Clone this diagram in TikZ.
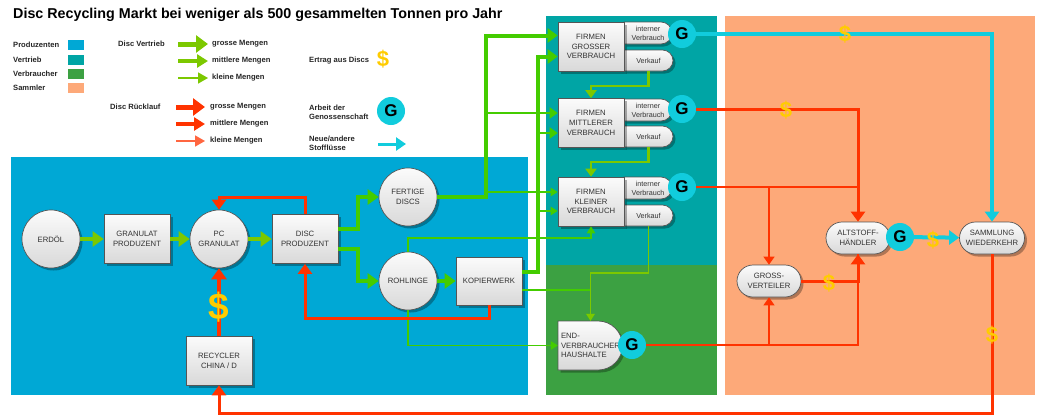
\documentclass[tikz,border=0pt]{standalone}
\usepackage{fontspec}
\setmainfont{Liberation Sans}
\usetikzlibrary{arrows.meta,shadows}
\definecolor{cProd}{HTML}{00A8D5}
\definecolor{cVert}{HTML}{00A5A5}
\definecolor{cVerb}{HTML}{3CA142}
\definecolor{cSamm}{HTML}{FDA979}
\definecolor{cYG}{HTML}{7CC800}
\definecolor{cBG}{HTML}{44CC00}
\definecolor{cRed}{HTML}{FF3300}
\definecolor{cCyan}{HTML}{11CCDD}
\definecolor{cGold}{HTML}{FFCC00}
\definecolor{cBorder}{HTML}{555555}
\tikzset{
  lbl/.style={font=\fontsize{7.7}{9.7}\selectfont, text=black!80},
  shad/.style={drop shadow={shadow xshift=2.5pt,shadow yshift=-2.5pt,fill=black,opacity=0.3}},
  nodefill/.style={draw=cBorder, line width=0.7pt, top color=gray!3, bottom color=gray!30, shad},
  circnode/.style={nodefill, lbl, circle, minimum size=58pt, inner sep=0pt, align=center},
  boxnode/.style={nodefill, lbl, rectangle, minimum width=66pt, minimum height=49pt, inner sep=0pt, align=center},
  pillnode/.style={nodefill, lbl, rectangle, rounded corners=16pt, minimum width=64pt, minimum height=32pt, inner sep=0pt, align=center},
  tabtext/.style={font=\fontsize{7.2}{9}\selectfont, text=black!80, inner sep=0pt, align=center, minimum width=49pt},
  gnode/.style={circle, fill=cCyan, minimum size=28pt, inner sep=0pt, font=\bfseries\fontsize{17}{17}\selectfont, text=black},
  dollar/.style={font=\bfseries\fontsize{22}{22}\selectfont, text=cGold, inner sep=0pt},
  legtext/.style={font=\bfseries\fontsize{7.6}{9}\selectfont, text=black!85, inner sep=0pt, anchor=west, align=left},
  sq/.style={minimum width=16pt, minimum height=10pt, inner sep=0pt, anchor=west},
  tipL/.style={-{Triangle[length=12pt,width=17pt]}},
  tipC/.style={-{Triangle[length=11pt,width=15pt]}},
  tipB/.style={-{Triangle[length=10pt,width=14pt]}},
  tipM/.style={-{Triangle[length=8pt,width=11pt]}},
  tipS/.style={-{Triangle[length=7pt,width=8.5pt]}},
  tipR/.style={-{Triangle[length=10pt,width=14pt]}},
  tipRS/.style={-{Triangle[length=8pt,width=11pt]}},
  lyB/.style={color=cYG, line width=4.5pt},
  lyM/.style={color=cYG, line width=2.6pt},
  lyS/.style={color=cYG, line width=1.3pt},
  lgB/.style={color=cBG, line width=4pt},
  lgM/.style={color=cBG, line width=2.8pt},
  lgS/.style={color=cBG, line width=1.3pt},
  lrX/.style={color=cRed, line width=4.5pt},
  lrB/.style={color=cRed, line width=3pt},
  lrS/.style={color=cRed, line width=1.3pt},
  lcB/.style={color=cCyan, line width=4pt},
}
\begin{document}
\begin{tikzpicture}[x=1pt,y=-1pt]
\useasboundingbox (0,0) rectangle (1037,416);
\fill[white] (0,0) rectangle (1037,416);
% regions
\fill[cProd] (11,157) rectangle (528,395);
\fill[cVert] (546,16) rectangle (717,265);
\fill[cVerb] (546,265) rectangle (717,395);
\fill[cSamm] (725,16) rectangle (1035,395);
% title
\node[anchor=west, font=\bfseries\fontsize{14.3}{14.3}\selectfont, inner sep=0pt] (title) at (13,15) {Disc Recycling Markt bei weniger als 500 gesammelten Tonnen pro Jahr};
% legend
\node[legtext] (tProd) at (13,45) {Produzenten};
\node[legtext] (tVert) at (13,60) {Vertrieb};
\node[legtext] (tVerb) at (13,74) {Verbraucher};
\node[legtext] (tSamm) at (13,88) {Sammler};
\node[sq, fill=cProd] (sProd) at (68,45) {};
\node[sq, fill=cVert] (sVert) at (68,60) {};
\node[sq, fill=cVerb] (sVerb) at (68,74) {};
\node[sq, fill=cSamm] (sSamm) at (68,88) {};
\node[legtext] (tDV) at (118,44) {Disc Vertrieb};
\node[legtext] (tDR) at (110,107) {Disc Rücklauf};
\node[legtext] (tg1) at (212,44) {grosse Mengen};
\node[legtext] (tg2) at (212,61) {mittlere Mengen};
\node[legtext] (tg3) at (212,78) {kleine Mengen};
\node[legtext] (tr1) at (210,107) {grosse Mengen};
\node[legtext] (tr2) at (210,124) {mittlere Mengen};
\node[legtext] (tr3) at (210,141) {kleine Mengen};
\coordinate (lga) at (178,44); \coordinate (lgb) at (208,44);
\coordinate (lgc) at (178,61); \coordinate (lgd) at (208,61);
\coordinate (lge) at (178,78); \coordinate (lgf) at (208,78);
\coordinate (lra) at (176,107); \coordinate (lrb) at (205,107);
\coordinate (lrc) at (176,124); \coordinate (lrd) at (205,124);
\coordinate (lre) at (176,141); \coordinate (lrf) at (205,141);
\coordinate (lca) at (378,144); \coordinate (lcb) at (406,144);
\draw[lyB, line width=5pt, tipL] (lga) -- (lgb);
\draw[lyB, line width=3.5pt, -{Triangle[length=11pt,width=13pt]}] (lgc) -- (lgd);
\draw[lyS, line width=1.6pt, -{Triangle[length=10pt,width=11pt]}] (lge) -- (lgf);
\draw[lrX, line width=5pt, tipL] (lra) -- (lrb);
\draw[lrX, line width=3.5pt, -{Triangle[length=11pt,width=13pt]}] (lrc) -- (lrd);
\draw[color=cRed!75, line width=1.6pt, -{Triangle[length=10pt,width=11pt]}] (lre) -- (lrf);
\draw[lcB, line width=3pt, -{Triangle[length=10pt,width=13pt]}] (lca) -- (lcb);
\node[legtext] (tEr) at (309,61) {Ertrag aus Discs};
\node[dollar] (ld) at (383,59) {\$};
\node[legtext] (tAr) at (309,112.5) {Arbeit der\\Genossenschaft};
\node[gnode] (lg) at (391,111) {G};
\node[legtext] (tNe) at (309,143) {Neue/andere\\Stofflüsse};
% producer nodes
\node[circnode] (erdoel) at (51,239) {ERDÖL};
\node[boxnode] (granprod) at (137,239) {GRANULAT\\PRODUZENT};
\node[circnode] (pcgran) at (219,239) {PC\\GRANULAT};
\node[boxnode] (discprod) at (305,239) {DISC\\PRODUZENT};
\node[circnode] (fert) at (408,197) {FERTIGE\\DISCS};
\node[circnode] (rohl) at (408,281) {ROHLINGE};
\node[boxnode, minimum height=48pt] (kopier) at (489,281) {KOPIERWERK};
\node[boxnode] (recyc) at (219,360.5) {RECYCLER\\CHINA / D};
% firm tabs
\path[nodefill] (624,22) -- (661,22) arc[start angle=90,end angle=-90,radius=11pt] -- (624,44) -- cycle;
\path[nodefill] (624,50) -- (662.5,50) arc[start angle=90,end angle=-90,radius=10.5pt] -- (624,71) -- cycle;
\path[nodefill] (624,99) -- (661,99) arc[start angle=90,end angle=-90,radius=11pt] -- (624,121) -- cycle;
\path[nodefill] (624,126) -- (662.5,126) arc[start angle=90,end angle=-90,radius=10.5pt] -- (624,147) -- cycle;
\path[nodefill] (624,177) -- (661,177) arc[start angle=90,end angle=-90,radius=11pt] -- (624,199) -- cycle;
\path[nodefill] (624,205) -- (662.5,205) arc[start angle=90,end angle=-90,radius=10.5pt] -- (624,226) -- cycle;
\node[tabtext, minimum height=22pt] (fgi) at (648,33) {interner\\Verbrauch};
\node[tabtext, minimum height=21pt] (fgv) at (648.5,60.5) {Verkauf};
\node[tabtext, minimum height=22pt] (fmi) at (648,110) {interner\\Verbrauch};
\node[tabtext, minimum height=21pt] (fmv) at (648.5,136.5) {Verkauf};
\node[tabtext, minimum height=22pt] (fki) at (648,188) {interner\\Verbrauch};
\node[tabtext, minimum height=21pt] (fkv) at (648.5,215.5) {Verkauf};
\node[boxnode] (fg) at (591,46.5) {FIRMEN\\GROSSER\\VERBRAUCH};
\node[boxnode] (fm) at (591,123) {FIRMEN\\MITTLERER\\VERBRAUCH};
\node[boxnode] (fk) at (591,201.5) {FIRMEN\\KLEINER\\VERBRAUCH};
% end consumer
\path[nodefill] (558,321) -- (598,321) arc[start angle=90,end angle=-90,radius=24.5pt] -- (558,370) -- cycle;
\node[lbl, minimum width=65pt, minimum height=49pt, text width=59pt, inner xsep=3pt, inner ysep=0pt, align=left] (endv) at (590.5,345.5) {END-\\VERBRAUCHER\\HAUSHALTE};
% collectors
\node[pillnode] (alt) at (858,238) {ALTSTOFF-\\HÄNDLER};
\node[pillnode, minimum width=65pt] (samm) at (992,238) {SAMMLUNG\\WIEDERKEHR};
\node[pillnode] (gross) at (769,281) {GROSS-\\VERTEILER};
% G nodes
\node[gnode] (gA) at (682,34) {G};
\node[gnode] (gB) at (682,109) {G};
\node[gnode] (gC) at (682,187) {G};
\node[gnode] (gD) at (632,345) {G};
\node[gnode] (gE) at (900,237) {G};
% main chain
\draw[lyB, tipC] (erdoel) -- (granprod);
\draw[lyB, tipC] (granprod) -- (pcgran);
\draw[lyB, tipC] (pcgran) -- (discprod);
\draw[lgB, tipC] ([yshift=10pt]discprod.east) -- (358,229) |- (fert);
\draw[lgB, tipC] ([yshift=-10pt]discprod.east) -- (358,249) |- (rohl);
\draw[lgB, tipC] (rohl) -- (kopier);
% to firms
\draw[lgB, tipB] (fert) -- (486,197) |- ([yshift=11pt]fg.west);
\draw[lgM, tipM] (486,113) -- ([yshift=10pt]fm.west);
\draw[lgS, tipS] (486,192) -- ([yshift=9.5pt]fk.west);
\draw[lgB, tipB] ([yshift=9pt]kopier.east) -- (538,272) |- ([yshift=-10pt]fg.west);
\draw[lgM, tipM] (538,133) -- ([yshift=-10pt]fm.west);
\draw[lgS, tipS] (538,211) -- ([yshift=-9.5pt]fk.west);
\draw[lgS, tipS] (rohl) -- (408,238) -| (fk);
\draw[lgS, tipS] (rohl) |- (endv);
\draw[lgS, tipS] ([yshift=-9pt]kopier.east) -| (endv);
\draw[lyS, tipS] (fkv) -- (648.5,273) -| (endv);
\draw[lyM, tipM] (fgv) -- (648.5,86) -| (fm);
\draw[lyM, tipM] (fmv) -- (648.5,162) -| (fk);
% red returns
\draw[lrB, tipR] (discprod) -- (305,197) -| (pcgran);
\draw[lrB, tipR] (kopier) -- (489,318) -| (discprod);
\draw[lrX, tipC] (recyc) -- (pcgran);
\draw[lrB, tipR] (samm) -- (992,413) -| (recyc);
\draw[lrB, tipR] (gB) -| (alt);
\draw[lrS] (gC) -- (alt.north |- gC);
\draw[lrS, tipRS] (gC) -| (gross);
\draw[lrS] (gD) -| (alt);
\draw[lrS, tipRS] (gD) -| (gross);
\draw[lrB, tipR] (gross) -| (alt);
\draw[lcB, tipB] (gA) -| (samm);
\draw[lcB, tipB] (gE) -- (samm);
% dollars
\node[dollar, font=\bfseries\fontsize{37}{37}\selectfont] (d0) at (219,307) {\$};
\node[dollar] (d1) at (845,34) {\$};
\node[dollar] (d2) at (786,110) {\$};
\node[dollar] (d3) at (829,283) {\$};
\node[dollar] (d4) at (933,240) {\$};
\node[dollar] (d5) at (992,335) {\$};
\end{tikzpicture}
\end{document}
